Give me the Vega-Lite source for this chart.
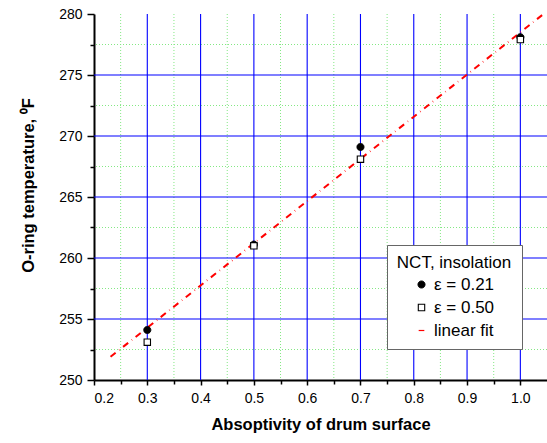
{
  "$schema": "https://vega.github.io/schema/vega-lite/v6.json",
  "width": 453,
  "height": 366,
  "autosize": {"type": "none"},
  "padding": {"left": 94, "top": 14, "right": 0, "bottom": 63},
  "config": {
    "view": {"stroke": null},
    "font": "Liberation Sans",
    "axis": {
      "labelFont": "Liberation Sans",
      "labelFontSize": 14,
      "labelColor": "black",
      "titleFont": "Liberation Sans",
      "titleFontSize": 16.5,
      "titleFontWeight": "bold",
      "titleColor": "black",
      "tickColor": "black",
      "tickWidth": 1.5,
      "domainColor": "black",
      "domainWidth": 2,
      "grid": false,
      "zindex": 1
    },
    "legend": {
      "orient": "none",
      "legendX": 293,
      "legendY": 231,
      "fillColor": "white",
      "strokeColor": "#666666",
      "padding": 10,
      "titleFont": "Liberation Sans",
      "titleFontSize": 17,
      "titleFontWeight": "normal",
      "titleColor": "black",
      "titleAnchor": "middle",
      "titlePadding": 4,
      "labelFont": "Liberation Sans",
      "labelFontSize": 17,
      "labelColor": "black",
      "labelOffset": 4,
      "rowPadding": 5
    }
  },
  "datasets": {
    "points": [
      {"x": 0.3, "y": 254.1, "series": "ε = 0.21"},
      {"x": 0.5, "y": 261.1, "series": "ε = 0.21"},
      {"x": 0.7, "y": 269.1, "series": "ε = 0.21"},
      {"x": 1.0, "y": 278.1, "series": "ε = 0.21"},
      {"x": 0.3, "y": 253.1, "series": "ε = 0.50"},
      {"x": 0.5, "y": 261.0, "series": "ε = 0.50"},
      {"x": 0.7, "y": 268.1, "series": "ε = 0.50"},
      {"x": 1.0, "y": 277.9, "series": "ε = 0.50"}
    ],
    "fit": [
      {"x": 0.231, "y": 251.9, "series": "linear fit"},
      {"x": 1.042, "y": 279.95, "series": "linear fit"}
    ],
    "majorX": [{"v": 0.3}, {"v": 0.4}, {"v": 0.5}, {"v": 0.6}, {"v": 0.7}, {"v": 0.8}, {"v": 0.9}, {"v": 1.0}],
    "minorX": [{"v": 0.25}, {"v": 0.35}, {"v": 0.45}, {"v": 0.55}, {"v": 0.65}, {"v": 0.75}, {"v": 0.85}, {"v": 0.95}],
    "majorY": [{"v": 255}, {"v": 260}, {"v": 265}, {"v": 270}, {"v": 275}],
    "minorY": [{"v": 252.5}, {"v": 257.5}, {"v": 262.5}, {"v": 267.5}, {"v": 272.5}, {"v": 277.5}]
  },
  "layer": [
    {
      "data": {"name": "minorX"},
      "mark": {"type": "rule", "color": "#84e884", "strokeDash": [1, 2], "strokeWidth": 1},
      "encoding": {
        "x": {
          "field": "v", "type": "quantitative",
          "scale": {"domain": [0.2, 1.05], "nice": false, "zero": false},
          "axis": {"orient": "bottom", "values": [0.25, 0.35, 0.45, 0.55, 0.65, 0.75, 0.85, 0.95], "labels": false, "domain": false, "tickSize": 4, "title": null}
        }
      }
    },
    {
      "data": {"name": "minorY"},
      "mark": {"type": "rule", "color": "#84e884", "strokeDash": [1, 2], "strokeWidth": 1},
      "encoding": {
        "y": {
          "field": "v", "type": "quantitative",
          "scale": {"domain": [250, 280], "nice": false, "zero": false},
          "axis": {"orient": "left", "values": [252.5, 257.5, 262.5, 267.5, 272.5, 277.5], "labels": false, "domain": false, "tickSize": 4, "title": null}
        }
      }
    },
    {
      "data": {"name": "majorX"},
      "mark": {"type": "rule", "color": "#0000ff", "strokeWidth": 1.1},
      "encoding": {
        "x": {
          "field": "v", "type": "quantitative",
          "axis": {"orient": "bottom", "values": [0.2, 0.3, 0.4, 0.5, 0.6, 0.7, 0.8, 0.9, 1.0], "format": ".1f", "tickSize": 5, "labelPadding": 6, "title": "Absoptivity of drum surface", "titlePadding": 11}
        }
      }
    },
    {
      "data": {"name": "majorY"},
      "mark": {"type": "rule", "color": "#0000ff", "strokeWidth": 1.1},
      "encoding": {
        "y": {
          "field": "v", "type": "quantitative",
          "axis": {"orient": "left", "values": [250, 255, 260, 265, 270, 275, 280], "tickSize": 7, "labelPadding": 5, "title": "O-ring temperature, ⁰F", "titlePadding": 22, "titleY": 171}
        }
      }
    },
    {
      "data": {"name": "fit"},
      "mark": {"type": "line", "strokeWidth": 2, "strokeDash": [6.5, 4.5, 0.5, 4.5]},
      "encoding": {
        "x": {"field": "x", "type": "quantitative", "axis": null},
        "y": {"field": "y", "type": "quantitative", "axis": null},
        "stroke": {
          "field": "series", "type": "nominal", "title": "NCT, insolation",
          "scale": {"domain": ["ε = 0.21", "ε = 0.50", "linear fit"], "range": ["black", "black", "#ff0000"]}
        },
        "strokeDash": {
          "field": "series", "type": "nominal", "title": "NCT, insolation",
          "scale": {"domain": ["ε = 0.21", "ε = 0.50", "linear fit"], "range": [[1, 0], [1, 0], [6.5, 4.5, 0.5, 4.5]]}
        }
      }
    },
    {
      "data": {"name": "points"},
      "mark": {"type": "point", "opacity": 1, "strokeOpacity": 1, "fillOpacity": 1},
      "encoding": {
        "x": {"field": "x", "type": "quantitative", "axis": null},
        "y": {"field": "y", "type": "quantitative", "axis": null},
        "shape": {
          "field": "series", "type": "nominal", "title": "NCT, insolation",
          "scale": {"domain": ["ε = 0.21", "ε = 0.50", "linear fit"], "range": ["circle", "square", "stroke"]}
        },
        "fill": {
          "field": "series", "type": "nominal", "title": "NCT, insolation",
          "scale": {"domain": ["ε = 0.21", "ε = 0.50", "linear fit"], "range": ["black", "white", "transparent"]}
        },
        "stroke": {
          "field": "series", "type": "nominal", "title": "NCT, insolation"
        },
        "strokeDash": {
          "field": "series", "type": "nominal", "title": "NCT, insolation"
        },
        "size": {
          "field": "series", "type": "nominal", "title": "NCT, insolation",
          "scale": {"domain": ["ε = 0.21", "ε = 0.50", "linear fit"], "range": [50, 32, 2025]}
        },
        "strokeWidth": {
          "field": "series", "type": "nominal", "title": "NCT, insolation",
          "scale": {"domain": ["ε = 0.21", "ε = 0.50", "linear fit"], "range": [1, 1.2, 2]}
        }
      }
    }
  ],
  "resolve": {"axis": {"x": "independent", "y": "independent"}}
}
